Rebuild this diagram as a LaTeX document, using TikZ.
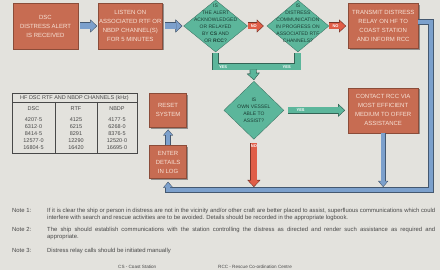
\documentclass[tikz,border=0pt]{standalone}
\usepackage{fontspec}
\setmainfont{Liberation Sans}
\usepackage{tikz}
\usetikzlibrary{shapes.geometric, arrows.meta, positioning, shadows}
\definecolor{paper}{RGB}{227,226,221}
\definecolor{brick}{RGB}{199,108,82}
\definecolor{brickink}{RGB}{247,226,214}
\definecolor{jade}{RGB}{92,182,155}
\definecolor{jadeink}{RGB}{28,62,52}
\definecolor{signal}{RGB}{224,94,72}
\definecolor{steel}{RGB}{124,160,204}
\definecolor{inkgrey}{RGB}{72,72,72}

\newcommand\flowfont{\fontsize{6}{9}\selectfont}
\newcommand\askfont{\fontsize{5}{7}\selectfont}
\newcommand\tagfont{\fontsize{4}{4}\selectfont\bfseries}
\newcommand\notefont{\fontsize{5.9}{7}\selectfont}
\newcommand\tabfont{\fontsize{5.5}{7}\selectfont}

\begin{document}
\begin{tikzpicture}[x=1pt, y=-1pt,
    actbox/.style={draw=brick!70!black, line width=0.3pt, fill=brick, text=brickink,
                   font=\flowfont, align=center, inner sep=0pt,
                   drop shadow={shadow xshift=1.4pt, shadow yshift=-1.4pt, fill=black!70, opacity=0.55}},
    askbox/.style={diamond, draw=jade!60!black, line width=0.3pt, fill=jade, inner sep=0pt},
    asktext/.style={text=jadeink, font=\askfont, align=center},
    tag/.style={font=\tagfont, text=white, inner sep=0pt},
    bar/.style={draw=#1!55!black, line width=7pt, postaction={draw=#1, line width=5.6pt}},
    pipe/.style={draw=#1!55!black, line width=7pt,
                 -{Triangle[length=7pt, width=13pt, line width=0.3pt]},
                 postaction={draw=#1, line width=5.6pt,
                   -{Triangle[length=5.3pt, width=10.2pt, line width=0.3pt]}, shorten >=1pt}},
    duct/.style={draw=#1!55!black, line width=5.4pt,
                 -{Triangle[length=6pt, width=10pt, line width=0.3pt]},
                 postaction={draw=#1, line width=4.2pt,
                   -{Triangle[length=4.6pt, width=7.8pt, line width=0.3pt]}, shorten >=0.9pt}},
    tabline/.style={draw=inkgrey, line width=0.35pt},
    tabtext/.style={font=\tabfont, text=inkgrey, inner sep=0pt},
    notetext/.style={font=\notefont, text=inkgrey, inner sep=0pt, anchor=base west},
    node distance=20pt
  ]
    \useasboundingbox (0,0) rectangle (440,270);
    \fill[paper] (0,0) rectangle (440,270);

    % top row of the chart
    \node[actbox, minimum width=65pt, minimum height=46pt] (alert) at (45.5,26)
         {DSC\\DISTRESS ALERT\\IS RECEIVED};
    \node[actbox, minimum width=64pt, minimum height=46pt, right=of alert] (listen)
         {LISTEN ON\\ASSOCIATED RTF OR\\NBDP CHANNEL(S)\\FOR 5 MINUTES};
    \node[askbox, minimum width=64pt, minimum height=52pt, right=21pt of listen] (ackd)
         [label={[asktext, yshift=3pt]center:IS\\THE ALERT\\ACKNOWLEDGED\\OR RELAYED\\BY \textbf{CS} AND\\OR \textbf{RCC}?}] {};
    \node[askbox, minimum width=62pt, minimum height=52pt, right=19pt of ackd] (progd)
         [label={[asktext, yshift=3pt]center:IS\\DISTRESS\\COMMUNICATION\\IN PROGRESS ON\\ASSOCIATED RTF\\CHANNELS?}] {};
    \node[actbox, minimum width=70pt, minimum height=45pt, right=19pt of progd] (relay)
         {TRANSMIT DISTRESS\\RELAY ON HF TO\\COAST STATION\\AND INFORM RCC};

    % middle row
    \node[actbox, minimum width=70pt, minimum height=45pt, below=39pt of relay] (contact)
         {CONTACT RCC VIA\\MOST EFFICIENT\\MEDIUM TO OFFER\\ASSISTANCE};
    \node[askbox, minimum width=60pt, minimum height=58pt, left=64pt of contact] (ownd)
         [label={[asktext]center:IS\\OWN VESSEL\\ABLE TO\\ASSIST?}] {};
    \node[actbox, minimum width=37pt, minimum height=34pt, left=37pt of ownd] (reset)
         {RESET\\SYSTEM};
    \node[actbox, minimum width=37pt, minimum height=33pt, below=18pt of reset] (logbox)
         {ENTER\\DETAILS\\IN LOG};

    \coordinate (yj) at (253,67);
    \coordinate (rc) at (431,190);
    \coordinate (lc) at (logbox.south |- rc);
    \coordinate (cj) at (contact.south |- rc);
    \coordinate (nj) at (ownd.south |- rc);

    % connectors
    \draw[pipe=steel] ([xshift=2pt]alert.east) -- ([xshift=-1pt]listen.west);
    \draw[pipe=steel] ([xshift=3pt]listen.east) -- ([xshift=-1pt]ackd.west);
    \draw[pipe=signal] (ackd.east) -- ([xshift=-3pt]progd.west) node[pos=0.38, tag] (no1) {NO};
    \draw[pipe=signal] (progd.east) -- ([xshift=-2pt]relay.west) node[pos=0.38, tag] (no2) {NO};

    \draw[bar=jade] ([yshift=-1pt]ackd.south) |- (yj) node[pos=0.6, tag] (yes1) {YES}
          -| ([yshift=-1pt]progd.south) node[pos=0.375, tag] (yes2) {YES};
    \draw[pipe=jade] ([yshift=-2.5pt]yj) -- ([yshift=1pt]ownd.north);
    \draw[pipe=jade] ([xshift=4pt]ownd.east) -- ([xshift=-3pt]contact.west)
          node[pos=0.22, tag] (yes3) {YES};
    \draw[pipe=signal] ([yshift=-4pt]ownd.south) -- ([yshift=3pt]nj)
          node[pos=0.06, tag] (no3) {NO};

    \draw[duct=steel] ([yshift=4pt]relay.east) -| (rc) -- (lc) -- ([yshift=-3pt]logbox.south);
    \draw[duct=steel] (contact.south) -- ([yshift=3pt]cj);
    \draw[duct=steel] (logbox.north) -- ([yshift=-2pt]reset.south);

    % channel table
    \draw[tabline] (12,93) rectangle (137,153);
    \draw[tabline] (12,102) -- (137,102) (55,102) -- (55,153) (97,102) -- (97,153);
    \node[tabtext] (tabhead) at (74.5,97.7) {HF DSC RTF AND NBDP CHANNELS (kHz)};
    \node[tabtext] (hdsc) at (33.5,109) {DSC};
    \node[tabtext] (hrtf) at (76,109) {RTF};
    \node[tabtext] (hnbdp) at (117,109) {NBDP};
    \foreach \d/\r/\n [count=\i] in {4207·5/4125/4177·5, 6312·0/6215/6268·0,
        8414·5/8291/8376·5, 12577·0/12290/12520·0, 16804·5/16420/16695·0} {
      \node[tabtext] (dsc\i) at (33.5,113+7*\i) {\d};
      \node[tabtext] (rtf\i) at (76,113+7*\i) {\r};
      \node[tabtext] (nbdp\i) at (117,113+7*\i) {\n};
    }

    % notes
    \node[notetext] (note1) at (12,212) {Note 1:};
    \node[notetext] (note1a) at (47,212) {\makebox[388pt][s]{If it is clear the ship or person in distress are not in the vicinity and/or other craft are better placed to assist, superfluous communications which could}};
    \node[notetext] (note1b) at (47,219) {interfere with search and rescue activities are to be avoided. Details should be recorded in the appropriate logbook.};
    \node[notetext] (note2) at (12,232) {Note 2:};
    \node[notetext] (note2a) at (47,232) {\makebox[388pt][s]{The ship should establish communications with the station controlling the distress as directed and render such assistance as required and}};
    \node[notetext] (note2b) at (47,239) {appropriate.};
    \node[notetext] (note3) at (12,252) {Note 3:};
    \node[notetext] (note3a) at (47,252) {Distress relay calls should be initiated manually};
    \node[notetext, font=\fontsize{4.6}{5}\selectfont] (keycs) at (118,268.3) {CS - Coast Station};
    \node[notetext, font=\fontsize{4.6}{5}\selectfont] (keyrcc) at (218,268.3) {RCC - Rescue Co-ordination Centre};
\end{tikzpicture}
\end{document}
